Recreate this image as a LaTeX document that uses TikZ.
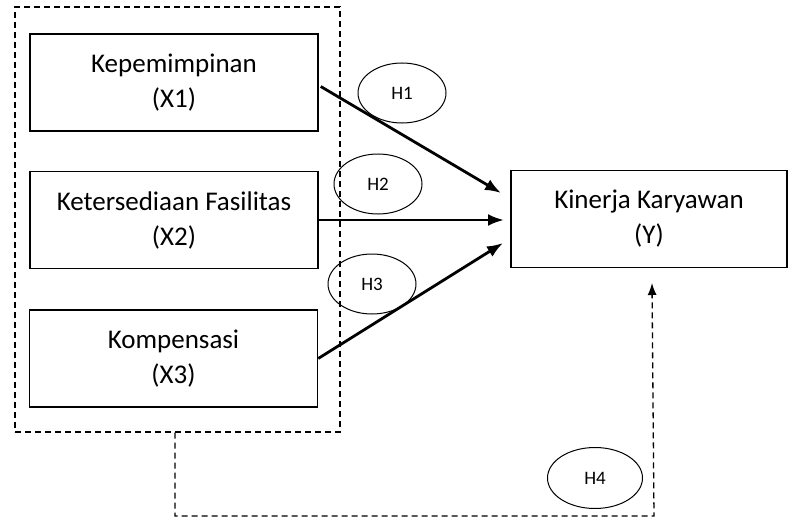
\documentclass[tikz,border=0pt]{standalone}
\usepackage{fontspec}
\setmainfont{Carlito}
\usetikzlibrary{arrows.meta,shapes.geometric}

\begin{document}
\begin{tikzpicture}[
      x=1pt,y=-1pt,
      var box/.style ={draw,line width=1.5pt,minimum width=#1,minimum height=97pt,
        align=center,inner sep=0pt,font=\fontsize{27}{35}\selectfont},
      var box/.default=288pt,
      hyp/.style ={draw,ellipse,line width=1pt,minimum width=88pt,minimum height=60pt,
        inner sep=0pt,font=\fontsize{19}{20}\selectfont},
      effect/.style ={line width=2.8pt,-{Latex[length=16pt,width=12pt]}},
      group line/.style ={dashed,line width=1.3pt,dash pattern=on 6pt off 4pt}
      ]
    \useasboundingbox (0,0) rectangle (788,519);
    % dashed frame round the three independent variables
    \node[group line,draw,minimum width=325pt,minimum height=425pt,inner sep=0pt] (grp) at (177.5,219.5) {};
    \node[var box] (x1) at (174,82.5) {Kepemimpinan\\(X1)};
    \node[var box] (x2) at (174,220) {Ketersediaan Fasilitas\\(X2)};
    \node[var box] (x3) at (173.5,358.5) {Kompensasi\\(X3)};
    \node[var box=276pt] (y) at (649,219) {Kinerja Karyawan\\(Y)};
    \node[hyp] (h1) at (402,93) {H1};
    \node[hyp] (h2) at (378,184) {H2};
    \node[hyp] (h3) at (372,284) {H3};
    \node[hyp,minimum width=95pt,minimum height=61pt] (h4) at (595,478) {H4};
    \coordinate (t1) at (501,193);
    \coordinate (t2) at (504,220);
    \coordinate (t3) at (503,243);
    \draw[effect] (x1.east) ++(2,4) -- (t1);
    \draw[effect] (x2.east) -- (t2);
    \draw[effect] (x3.east) -- (t3);
    % simultaneous effect
    \coordinate (base) at (654,516);
    \coordinate (tip) at (652,283);
    \draw[group line,-{Latex[length=12pt,width=9pt]}] (grp.south) ++(-2.5,0) |- (base) -- (tip);
\end{tikzpicture}
\end{document}
